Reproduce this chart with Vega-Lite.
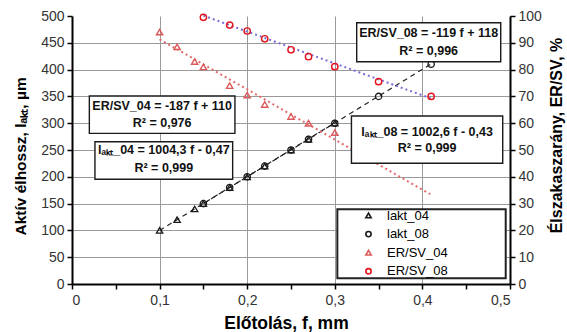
{
  "$schema": "https://vega.github.io/schema/vega-lite/v6.json",
  "width": 438,
  "height": 268,
  "autosize": {"type": "none"},
  "padding": {"left": 72, "top": 16, "right": 57, "bottom": 48},
  "background": "white",
  "config": {
    "font": "Liberation Sans",
    "view": {"stroke": null},
    "axis": {
      "domainColor": "black",
      "domainWidth": 2,
      "tickColor": "black",
      "tickWidth": 1.5,
      "tickSize": 5,
      "labelColor": "#333333",
      "labelFontSize": 14,
      "labelFont": "Liberation Sans",
      "labelOverlap": false,
      "titleFont": "Liberation Sans",
      "titleFontSize": 16,
      "titleFontWeight": "bold",
      "titleColor": "black",
      "gridColor": "#9a9a9a",
      "gridWidth": 1
    },
    "legend": {
      "labelFont": "Liberation Sans",
      "labelFontSize": 13,
      "labelColor": "black"
    }
  },
  "datasets": {
    "meas": [
      {"f": 0.10, "series": "lakt_04", "value": 100},
      {"f": 0.12, "series": "lakt_04", "value": 120},
      {"f": 0.14, "series": "lakt_04", "value": 140},
      {"f": 0.15, "series": "lakt_04", "value": 150},
      {"f": 0.18, "series": "lakt_04", "value": 180},
      {"f": 0.20, "series": "lakt_04", "value": 200},
      {"f": 0.22, "series": "lakt_04", "value": 220},
      {"f": 0.25, "series": "lakt_04", "value": 250},
      {"f": 0.27, "series": "lakt_04", "value": 270},
      {"f": 0.30, "series": "lakt_04", "value": 300},
      {"f": 0.15, "series": "lakt_08", "value": 150},
      {"f": 0.18, "series": "lakt_08", "value": 180},
      {"f": 0.20, "series": "lakt_08", "value": 200},
      {"f": 0.22, "series": "lakt_08", "value": 220},
      {"f": 0.25, "series": "lakt_08", "value": 250},
      {"f": 0.27, "series": "lakt_08", "value": 270},
      {"f": 0.30, "series": "lakt_08", "value": 300},
      {"f": 0.35, "series": "lakt_08", "value": 350},
      {"f": 0.41, "series": "lakt_08", "value": 410},
      {"f": 0.10, "series": "ER/SV_04", "value": 94},
      {"f": 0.12, "series": "ER/SV_04", "value": 88.5},
      {"f": 0.14, "series": "ER/SV_04", "value": 83},
      {"f": 0.15, "series": "ER/SV_04", "value": 81},
      {"f": 0.18, "series": "ER/SV_04", "value": 74},
      {"f": 0.20, "series": "ER/SV_04", "value": 70.5},
      {"f": 0.22, "series": "ER/SV_04", "value": 67},
      {"f": 0.25, "series": "ER/SV_04", "value": 62.5},
      {"f": 0.27, "series": "ER/SV_04", "value": 60},
      {"f": 0.30, "series": "ER/SV_04", "value": 56.5},
      {"f": 0.15, "series": "ER/SV_08", "value": 99.5},
      {"f": 0.18, "series": "ER/SV_08", "value": 96.6},
      {"f": 0.20, "series": "ER/SV_08", "value": 94.4},
      {"f": 0.22, "series": "ER/SV_08", "value": 91.5},
      {"f": 0.25, "series": "ER/SV_08", "value": 87.4},
      {"f": 0.27, "series": "ER/SV_08", "value": 84.8},
      {"f": 0.30, "series": "ER/SV_08", "value": 81.1},
      {"f": 0.35, "series": "ER/SV_08", "value": 75.5},
      {"f": 0.41, "series": "ER/SV_08", "value": 70}
    ],
    "trend": [
      {"f": 0.10, "series": "lakt_04", "value": 99.96},
      {"f": 0.30, "series": "lakt_04", "value": 300.82},
      {"f": 0.15, "series": "lakt_08", "value": 149.96},
      {"f": 0.41, "series": "lakt_08", "value": 410.64},
      {"f": 0.10, "series": "ER/SV_04", "value": 91.3},
      {"f": 0.41, "series": "ER/SV_04", "value": 33.33},
      {"f": 0.15, "series": "ER/SV_08", "value": 100.15},
      {"f": 0.41, "series": "ER/SV_08", "value": 69.21}
    ],
    "boxes": [
      {"box": "ersv04", "f1": 0.0198, "f2": 0.186, "l1": 281.1, "l2": 350.7},
      {"box": "lakt04", "f1": 0.0262, "f2": 0.1834, "l1": 195.3, "l2": 265.5},
      {"box": "ersv08", "f1": 0.325, "f2": 0.4894, "l1": 414.7, "l2": 487.5},
      {"box": "lakt08", "f1": 0.319, "f2": 0.4917, "l1": 225.2, "l2": 313.4}
    ],
    "legendbox": [
      {"f1": 0.3029, "f2": 0.4951, "l1": 10.6, "l2": 139.4}
    ],
    "notes": [
      {"f": 0.1029, "l": 332.1, "text": "ER/SV_04 = -187 f + 110"},
      {"f": 0.1029, "l": 300.9, "text": "R² = 0,976"},
      {"f": 0.1048, "l": 250.0, "text": "lₐₖₜ_04 = 1004,3 f - 0,47"},
      {"f": 0.1048, "l": 216.4, "text": "R² = 0,999"},
      {"f": 0.4072, "l": 467.7, "text": "ER/SV_08 = -119 f + 118"},
      {"f": 0.4072, "l": 435.3, "text": "R² = 0,996"},
      {"f": 0.4054, "l": 284.1, "text": "lₐₖₜ_08 = 1002,6 f - 0,43"},
      {"f": 0.4054, "l": 253.2, "text": "R² = 0,999"}
    ]
  },
  "layer": [
    {
      "layer": [
        {
          "data": {"name": "trend"},
          "transform": [{"filter": "indexof(datum.series, 'lakt') == 0"}],
          "mark": {"type": "line", "color": "#222222", "strokeWidth": 1.2, "strokeDash": [5, 4]},
          "encoding": {
            "x": {
              "field": "f", "type": "quantitative",
              "scale": {"domain": [0, 0.5], "nice": false},
              "axis": {
                "title": "Előtolás, f, mm",
                "titleFontSize": 17.5,
                "titlePadding": 7,
                "titleX": 214,
                "values": [0, 0.05, 0.1, 0.15, 0.2, 0.25, 0.3, 0.35, 0.4, 0.45, 0.5],
                "labelExpr": "round(datum.value * 100) % 10 == 0 ? replace(format(datum.value, '.1~f'), '.', ',') : ''",
                "labelOverlap": false,
                "labelPadding": 4,
                "grid": true,
                "gridOpacity": {"condition": {"test": "round(datum.value * 100) % 10 != 0 || datum.value == 0 || datum.value == 0.5", "value": 0}, "value": 1}
              }
            },
            "y": {
              "field": "value", "type": "quantitative",
              "scale": {"domain": [0, 500], "nice": false},
              "axis": {
                "orient": "left",
                "title": "Aktív élhossz, lₐₖₜ, µm",
                "titleFontSize": 15.5,
                "values": [0, 50, 100, 150, 200, 250, 300, 350, 400, 450, 500],
                "tickCount": 11,
                "labelOverlap": false,
                "grid": true,
                "gridOpacity": {"condition": {"test": "datum.value == 0 || datum.value == 500", "value": 0}, "value": 1},
                "labelPadding": 3,
                "titleAngle": 270,
                "titleX": -52,
                "titleY": 219,
                "titleAlign": "left",
                "titleBaseline": "middle"
              }
            },
            "detail": {"field": "series"}
          }
        },
        {
          "data": {"name": "legendbox"},
          "mark": {"type": "rect", "fill": "white", "stroke": "#222222", "strokeWidth": 2},
          "encoding": {
            "x": {"field": "f1", "type": "quantitative"},
            "x2": {"field": "f2"},
            "y": {"field": "l1", "type": "quantitative"},
            "y2": {"field": "l2"}
          }
        },
        {
          "data": {"name": "meas"},
          "transform": [{"filter": "indexof(datum.series, 'lakt') == 0"}],
          "mark": {"type": "point", "filled": false, "strokeWidth": 1.3, "size": 40, "opacity": 1},
          "encoding": {
            "x": {"field": "f", "type": "quantitative"},
            "y": {"field": "value", "type": "quantitative"},
            "shape": {
              "field": "series", "type": "nominal",
              "scale": {"domain": ["lakt_04", "lakt_08", "ER/SV_04", "ER/SV_08"], "range": ["triangle-up", "circle", "triangle-up", "circle"]},
              "legend": {
                "title": null,
                "orient": "none",
                "legendX": 290,
                "legendY": 193,
                "padding": 0,
                "symbolSize": 28,
                "symbolStrokeWidth": 1.6,
                "labelOffset": 12,
                "rowPadding": 4.6
              }
            },
            "color": {
              "field": "series", "type": "nominal",
              "scale": {"domain": ["lakt_04", "lakt_08", "ER/SV_04", "ER/SV_08"], "range": ["#1a1a1a", "#1a1a1a", "#dc5a5c", "#e3141c"]},
              "legend": {
                "title": null,
                "orient": "none",
                "legendX": 290,
                "legendY": 193,
                "padding": 0,
                "symbolSize": 28,
                "symbolStrokeWidth": 1.6,
                "labelOffset": 12,
                "rowPadding": 4.6
              }
            }
          }
        }
      ]
    },
    {
      "layer": [
        {
          "data": {"name": "trend"},
          "transform": [{"filter": "datum.series == 'ER/SV_04'"}],
          "mark": {"type": "line", "color": "#e46a6a", "strokeWidth": 2, "strokeDash": [2, 3]},
          "encoding": {
            "x": {"field": "f", "type": "quantitative"},
            "y": {
              "field": "value", "type": "quantitative",
              "scale": {"domain": [0, 100], "nice": false},
              "axis": {
                "orient": "right",
                "title": "Élszakaszarány, ER/SV, %",
                "values": [0, 10, 20, 30, 40, 50, 60, 70, 80, 90, 100],
                "tickCount": 11,
                "labelOverlap": false,
                "grid": false,
                "labelPadding": 3,
                "titleAngle": 270,
                "titleX": 46,
                "titleY": 119,
                "titleAlign": "center",
                "titleBaseline": "middle"
              }
            }
          }
        },
        {
          "data": {"name": "trend"},
          "transform": [{"filter": "datum.series == 'ER/SV_08'"}],
          "mark": {"type": "line", "color": "#7d6bd6", "strokeWidth": 2, "strokeDash": [2, 3]},
          "encoding": {
            "x": {"field": "f", "type": "quantitative"},
            "y": {"field": "value", "type": "quantitative"}
          }
        },
        {
          "data": {"name": "meas"},
          "transform": [{"filter": "indexof(datum.series, 'ER') == 0"}],
          "mark": {"type": "point", "filled": false, "strokeWidth": 1.4, "size": 40, "opacity": 1},
          "encoding": {
            "x": {"field": "f", "type": "quantitative"},
            "y": {"field": "value", "type": "quantitative"},
            "shape": {"field": "series", "type": "nominal"},
            "color": {"field": "series", "type": "nominal"}
          }
        }
      ]
    },
    {
      "layer": [
        {
          "data": {"name": "boxes"},
          "mark": {"type": "rect", "fill": "white", "stroke": "#1a1a1a", "strokeWidth": 1.4},
          "encoding": {
            "x": {"field": "f1", "type": "quantitative"},
            "x2": {"field": "f2"},
            "y": {"field": "l1", "type": "quantitative", "scale": {"domain": [0, 500], "nice": false}, "axis": null},
            "y2": {"field": "l2"}
          }
        },
        {
          "data": {"name": "notes"},
          "mark": {"type": "text", "font": "Liberation Sans", "fontWeight": "bold", "fontSize": 12.5, "color": "#111111", "align": "center", "baseline": "middle"},
          "encoding": {
            "x": {"field": "f", "type": "quantitative"},
            "y": {"field": "l", "type": "quantitative"},
            "text": {"field": "text"}
          }
        }
      ]
    }
  ],
  "resolve": {"scale": {"y": "independent"}, "axis": {"y": "independent"}}
}
